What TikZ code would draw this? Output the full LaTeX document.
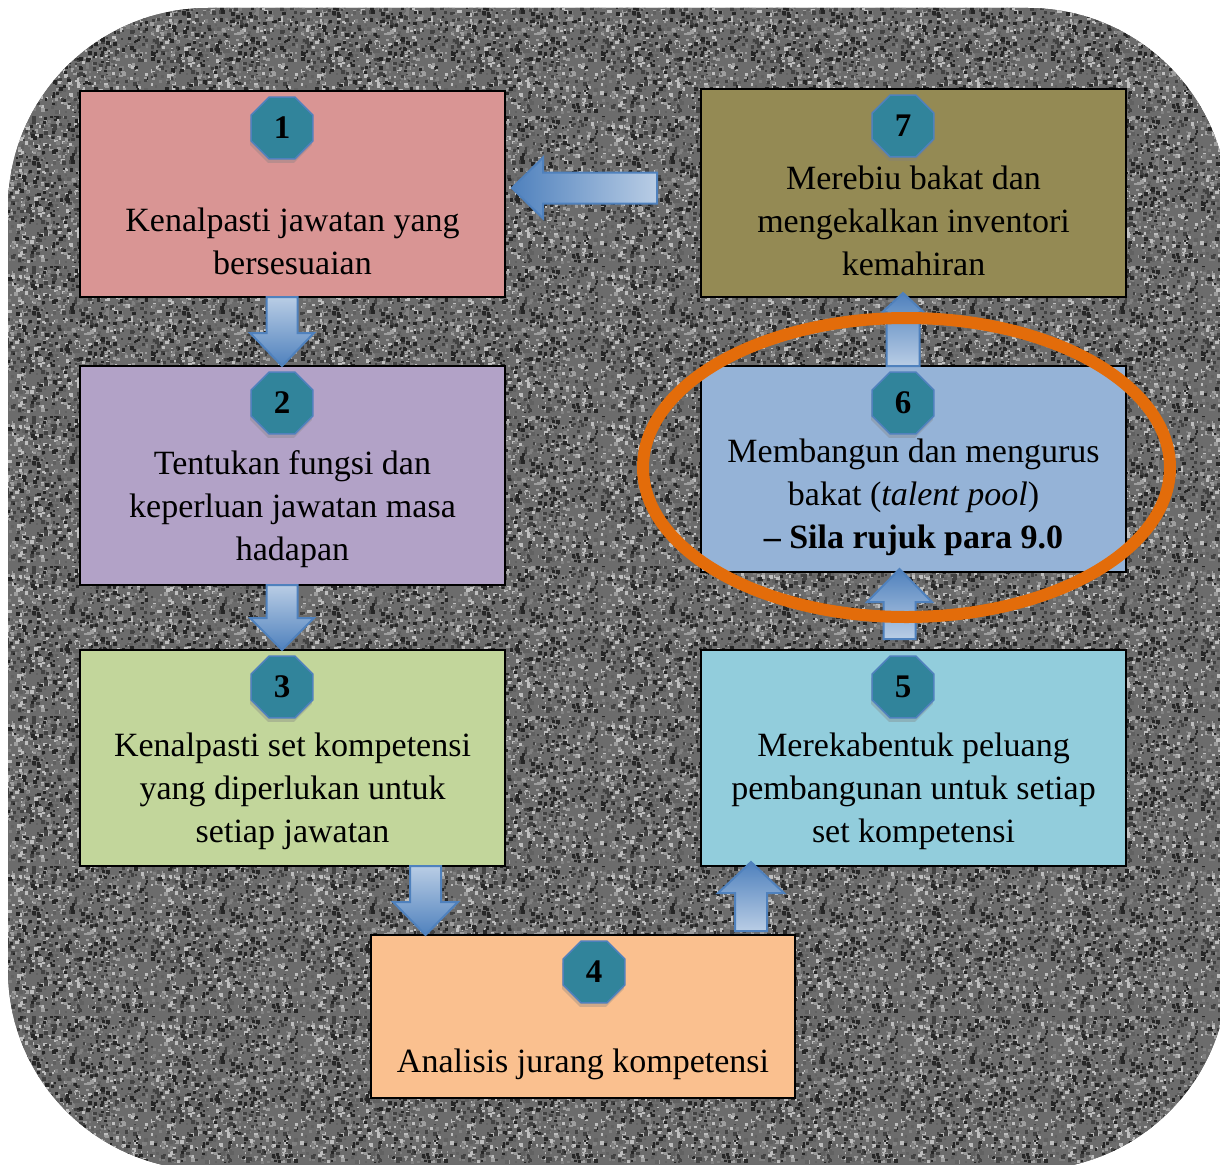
\documentclass[tikz,border=0pt]{standalone}
\usepackage{fontspec}
\setmainfont{Liberation Serif}
\usetikzlibrary{shapes.geometric,shadows,calc,patterns}

\definecolor{boxa}{HTML}{D99594}
\definecolor{boxb}{HTML}{B2A2C7}
\definecolor{boxc}{HTML}{C2D69B}
\definecolor{boxd}{HTML}{FAC08F}
\definecolor{boxe}{HTML}{92CDDC}
\definecolor{boxf}{HTML}{95B3D7}
\definecolor{boxg}{HTML}{948A54}
\definecolor{badgefill}{HTML}{31849B}
\definecolor{badgeedge}{HTML}{4F81BD}
\definecolor{arrdark}{HTML}{4F81BD}
\definecolor{arrlight}{HTML}{B9CDE5}
\definecolor{ringcol}{HTML}{E36C0A}
\definecolor{stonebase}{HTML}{6C6C6C}

% granite tile
\pgfmathsetseed{7}
\pgfdeclarepatterninherentlycolored{granite}{\pgfpoint{-2pt}{-2pt}}{\pgfpoint{152pt}{152pt}}{\pgfpoint{150pt}{150pt}}{%
  \pgfsetfillcolor{stonebase}
  \pgfpathrectangle{\pgfpoint{-2pt}{-2pt}}{\pgfpoint{154pt}{154pt}}
  \pgfusepath{fill}
  \foreach \g in {25,38,50,62,74,85}{
    \pgfsetfillcolor{black!\g!white}
    \foreach \i in {1,...,260}{
      \pgfmathsetmacro\gx{147*rnd}
      \pgfmathsetmacro\gy{147*rnd}
      \pgfmathsetmacro\gs{1.8+2.2*rnd}
      \pgfpathrectangle{\pgfpoint{\gx pt}{\gy pt}}{\pgfpoint{\gs pt}{\gs pt}}
      \pgfusepath{fill}
    }
  }}

% block arrow: style, tail, tip, shaft half width, head half width, head length
\newcommand{\blockarrow}[6]{%
\coordinate (ba-s) at (#2);
\coordinate (ba-e) at (#3);
\coordinate (ba-h) at ($(ba-e)!#6!(ba-s)$);
\shade[#1] ($(ba-s)!#4!90:(ba-e)$) -- ($(ba-h)!#4!90:(ba-e)$) -- ($(ba-h)!#5!90:(ba-e)$)
  -- (ba-e) -- ($(ba-h)!#5!-90:(ba-e)$) -- ($(ba-h)!#4!-90:(ba-e)$) -- ($(ba-s)!#4!-90:(ba-e)$) -- cycle;}

\begin{document}
\begin{tikzpicture}[x=1pt,y=-1pt,inner sep=0pt,outer sep=0pt,
stepbox/.style={draw=black,line width=2pt,rectangle,minimum width=425pt},
boxtext/.style={align=center,font=\fontsize{34}{43}\selectfont},
badge/.style={regular polygon,regular polygon sides=8,minimum size=67pt,fill=badgefill,draw=badgeedge,line width=1.5pt,
  font=\fontsize{33}{34}\selectfont\bfseries,drop shadow={shadow xshift=-1pt,shadow yshift=-4pt,opacity=0.35}},
downarr/.style={draw=arrdark,line width=2pt,top color=arrlight,bottom color=arrdark},
uparr/.style={draw=arrdark,line width=2pt,top color=arrdark,bottom color=arrlight},
leftarr/.style={draw=arrdark,line width=2pt,left color=arrdark,right color=arrlight}]
\useasboundingbox (0,0) rectangle (1220,1164);

% stone background
\fill[stonebase,rounded corners=200pt] (8,8) rectangle (1228,1170);
\fill[pattern=granite,rounded corners=200pt] (8,8) rectangle (1228,1170);

% boxes
\draw (292.5,194) node[stepbox,fill=boxa,minimum height=206pt] (k1) {};
\draw (292.5,475.5) node[stepbox,fill=boxb,minimum height=219pt] (k2) {};
\draw (292.5,758) node[stepbox,fill=boxc,minimum height=216pt] (k3) {};
\draw (583,1016.5) node[stepbox,fill=boxd,minimum width=424pt,minimum height=163pt] (k4) {};
\draw (913.5,758) node[stepbox,fill=boxe,minimum height=216pt] (k5) {};
\draw (913.5,469) node[stepbox,fill=boxf,minimum height=206pt] (k6) {};
\draw (913.5,193) node[stepbox,fill=boxg,minimum height=208pt] (k7) {};

% texts
\draw (k1.center) ++(0,47.5) node[boxtext] (t1) {Kenalpasti jawatan yang\\bersesuaian};
\draw (k2.center) ++(0,34) node[boxtext] (t2) {Tentukan fungsi dan\\keperluan jawatan masa\\hadapan};
\draw (k3.center) ++(0,33) node[boxtext] (t3) {Kenalpasti set kompetensi\\yang diperlukan untuk\\setiap jawatan};
\draw (k4.center) ++(0,48) node[boxtext] (t4) {Analisis jurang kompetensi};
\draw (k5.center) ++(0,33) node[boxtext] (t5) {Merekabentuk peluang\\pembangunan untuk setiap\\set kompetensi};
\draw (k6.center) ++(0,28.5) node[boxtext] (t6) {Membangun dan mengurus\\bakat (\textit{talent pool})\\\textbf{– Sila rujuk para 9.0}};
\draw (k7.center) ++(0,27.5) node[boxtext] (t7) {Merebiu bakat dan\\mengekalkan inventori\\kemahiran};

% badges
\draw (282,128) node[badge] (b1) {1};
\draw (282,403) node[badge] (b2) {2};
\draw (282,687) node[badge] (b3) {3};
\draw (594,972) node[badge] (b4) {4};
\draw (903,687) node[badge] (b5) {5};
\draw (903,403) node[badge] (b6) {6};
\draw (903,126) node[badge] (b7) {7};

% arrows
\coordinate (a3) at (425.5,0);
\coordinate (a4) at (751,0);
\coordinate (a5) at (899.5,0);
\coordinate (l1) at (657,188);
\coordinate (l2) at (512,188);
\blockarrow{downarr}{k1.south -| b1}{k2.north -| b1}{15.5pt}{32pt}{33pt}
\blockarrow{downarr}{k2.south -| b2}{k3.north -| b2}{15.5pt}{32pt}{32pt}
\blockarrow{downarr}{k3.south -| a3}{k4.north -| a3}{15.5pt}{32.5pt}{33pt}
\blockarrow{uparr}{[yshift=4pt]k4.north -| a4}{[yshift=4pt]k5.south -| a4}{16pt}{33pt}{31pt}
\blockarrow{uparr}{[yshift=11pt]k5.north -| a5}{[yshift=3pt]k6.south -| a5}{16pt}{32.5pt}{33pt}
\blockarrow{uparr}{k6.north -| b6}{[yshift=4pt]k7.south -| b6}{16.5pt}{20.5pt}{19pt}
\blockarrow{leftarr}{l1}{l2}{15.5pt}{30.5pt}{31pt}

% highlight ring
\draw[ringcol,line width=12pt] (906.5,467.5) ellipse [x radius=263.5, y radius=149.5];
\end{tikzpicture}
\end{document}
